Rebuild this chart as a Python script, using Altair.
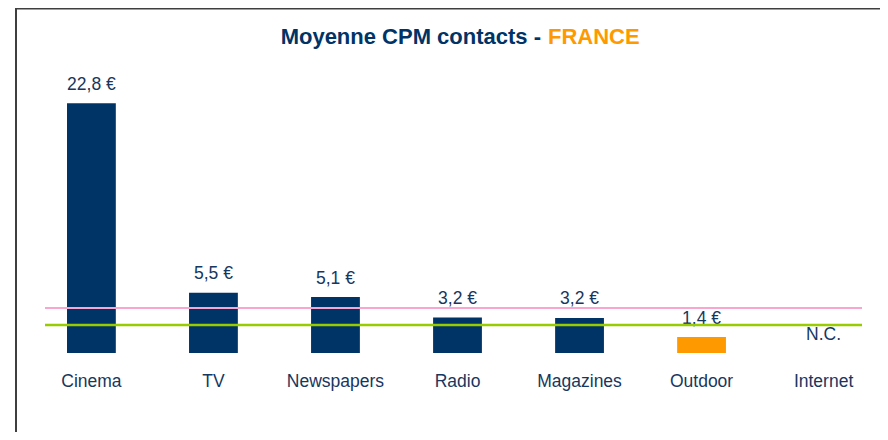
import altair as alt
import pandas as pd

# ---- data ----
categories = ["Cinema", "TV", "Newspapers", "Radio", "Magazines", "Outdoor", "Internet"]
values = [22.8, 5.5, 5.1, 3.25, 3.2, 1.45, None]
labels = ["22,8 €", "5,5 €", "5,1 €", "3,2 €", "3,2 €", "1,4 €", "N.C."]
bar_colors = ["#003366", "#003366", "#003366", "#003366", "#003366", "#FF9900", "#003366"]
ref_values = [4.1, 2.55]
ref_colors = ["#F8A6CF", "#99CC00"]
ref_widths = [2, 2.5]
title_main = "Moyenne CPM contacts -"
title_country = "FRANCE"

NAVY = "#003366"
TEXT = "#17375E"
FONT = "Liberation Sans"

df = pd.DataFrame({
    "cat": categories,
    "val": values,
    "label": labels,
    "color": bar_colors,
    "labelpos": [v if v is not None else 0 for v in values],
})
refs = pd.DataFrame({"v": ref_values, "c": ref_colors, "w": ref_widths})

xenc = alt.X(
    "cat:N",
    sort=categories,
    scale=alt.Scale(range=[22.4, 876.6], paddingInner=0.6, paddingOuter=0.3),
    axis=alt.Axis(
        title=None, domain=False, ticks=False, tickSize=0, labelAngle=0,
        labelPadding=33, labelBaseline="alphabetic", labelFontSize=17.5,
        labelColor=TEXT, labelFont=FONT, grid=False,
    ),
)
yscale = alt.Scale(domain=[0, 31.48], nice=False, zero=True)

bars = alt.Chart(df).mark_bar().encode(
    x=xenc,
    y=alt.Y("val:Q", scale=yscale, axis=None),
    color=alt.Color("color:N", scale=None),
)

texts = alt.Chart(df).mark_text(
    baseline="alphabetic", dy=-13.5, fontSize=17.5, font=FONT, color=TEXT
).encode(
    x=alt.X("cat:N", sort=categories),
    y=alt.Y("labelpos:Q", scale=yscale, axis=None),
    text="label:N",
)

reflines = alt.Chart(refs).mark_rule().encode(
    y=alt.Y("v:Q", scale=yscale, axis=None),
    x=alt.value(37),
    x2=alt.value(854),
    color=alt.Color("c:N", scale=None),
    strokeWidth=alt.StrokeWidth("w:Q", scale=None),
)

frame_top = alt.Chart(pd.DataFrame({"a": [0]})).mark_rule(color="#3F3F3F", strokeWidth=2).encode(
    x=alt.value(7), x2=alt.value(872), y=alt.value(0.5)
)
frame_left = alt.Chart(pd.DataFrame({"a": [0]})).mark_rule(color="#3F3F3F", strokeWidth=2).encode(
    x=alt.value(8), y=alt.value(0), y2=alt.value(424)
)

t1 = alt.Chart(pd.DataFrame({"t": [title_main]})).mark_text(
    align="right", baseline="alphabetic", fontSize=22, fontWeight="bold", font=FONT, color=NAVY
).encode(x=alt.value(533), y=alt.value(36), text="t:N")
t2 = alt.Chart(pd.DataFrame({"t": [title_country]})).mark_text(
    align="left", baseline="alphabetic", fontSize=22, fontWeight="bold", font=FONT, color="#FF9900"
).encode(x=alt.value(540), y=alt.value(36), text="t:N")

chart = alt.layer(frame_top, frame_left, bars, texts, reflines, t1, t2).properties(
    width=872,
    height=345,
    autosize=alt.AutoSizeParams(type="none"),
    padding={"left": 0, "top": 0, "right": 0, "bottom": 79},
).configure(background="white", view=alt.ViewConfig(stroke=None, strokeWidth=0))

chart.save("out.html", embed_options={"renderer": "svg", "actions": False})
